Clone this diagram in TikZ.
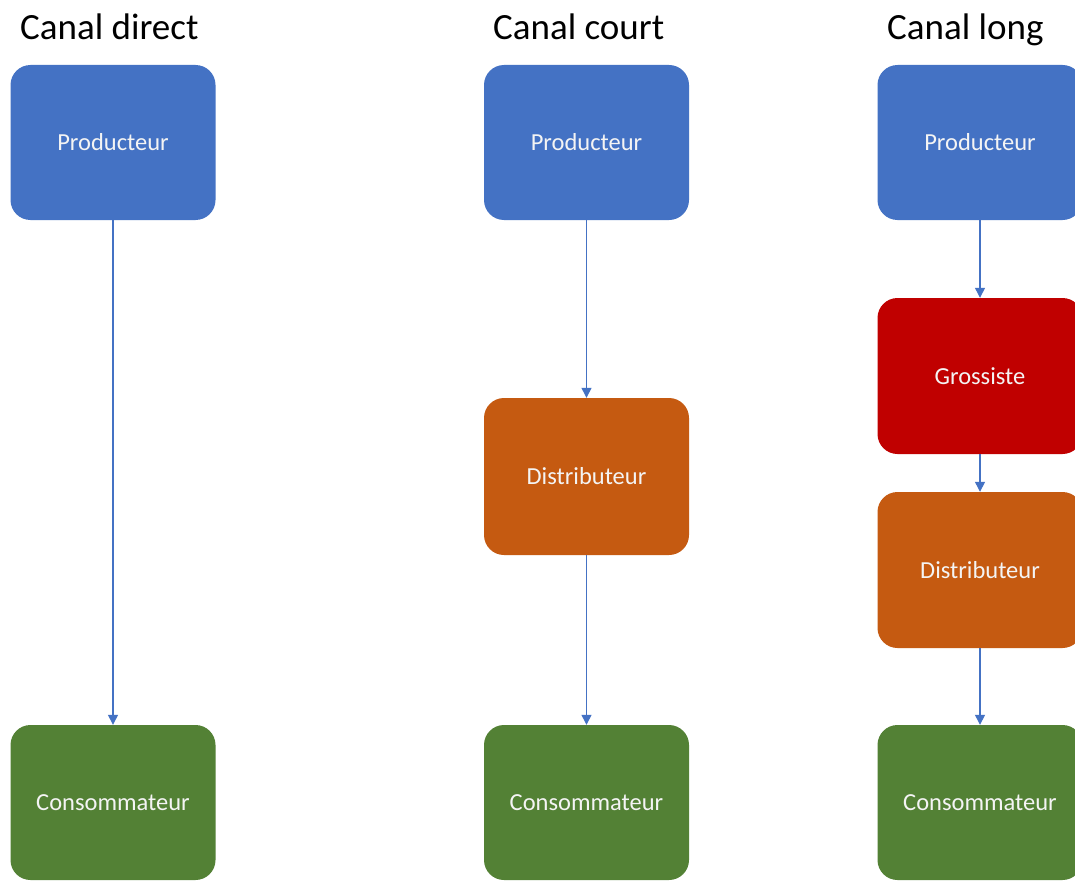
\documentclass[tikz,border=0pt]{standalone}
\usepackage{fontspec}
\setmainfont{Carlito}
\usetikzlibrary{arrows.meta}
\definecolor{prodblue}{HTML}{4472C4}
\definecolor{distorange}{HTML}{C55A11}
\definecolor{grossred}{HTML}{C00000}
\definecolor{consgreen}{HTML}{538135}
\definecolor{boxtext}{HTML}{F4F4F4}
\tikzset{
  stage/.style={rectangle, rounded corners=20pt, minimum width=205pt,
    minimum height=155pt, inner sep=0pt, text=boxtext,
    font=\fontsize{24.5}{28}\selectfont},
  producer/.style={stage, fill=prodblue},
  distributor/.style={stage, fill=distorange},
  wholesaler/.style={stage, fill=grossred},
  consumer/.style={stage, fill=consgreen},
  title/.style={anchor=base west, inner sep=0pt, text=black,
    font=\fontsize{37}{42}\selectfont},
  flow/.style={draw=prodblue, line width=1.3pt,
    -{Triangle[length=10pt,width=10pt]}}
}
\begin{document}
\begin{tikzpicture}[x=1pt,y=-1pt]
  \useasboundingbox (0,0) rectangle (1075,880);
  \clip (0,0) rectangle (1075,880);
  \fill[white] (0,0) rectangle (1075,880);

  % column titles
  \node[title] (t1) at (20,40) {Canal direct};
  \node[title] (t2) at (493,40) {Canal court};
  \node[title] (t3) at (887,40) {Canal long};

  % direct channel
  \node[producer] (p1) at (113,142.5) {Producteur};
  \node[consumer] (c1) at (113,802.5) {Consommateur};
  \draw[flow] (p1.south) -- (c1.north);

  % short channel
  \node[producer] (p2) at (586.5,142.5) {Producteur};
  \node[distributor, minimum height=157pt] (d2) at (586.5,476.5) {Distributeur};
  \node[consumer] (c2) at (586.5,802.5) {Consommateur};
  \draw[flow] (p2.south) -- (d2.north);
  \draw[flow] (d2.south) -- (c2.north);

  % long channel
  \node[producer] (p3) at (980,142.5) {Producteur};
  \node[wholesaler, minimum height=156pt] (g3) at (980,376) {Grossiste};
  \node[distributor, minimum height=156pt] (d3) at (980,570) {Distributeur};
  \node[consumer] (c3) at (980,802.5) {Consommateur};
  \draw[flow] (p3.south) -- (g3.north);
  \draw[flow] (g3.south) -- (d3.north);
  \draw[flow] (d3.south) -- (c3.north);
\end{tikzpicture}
\end{document}
